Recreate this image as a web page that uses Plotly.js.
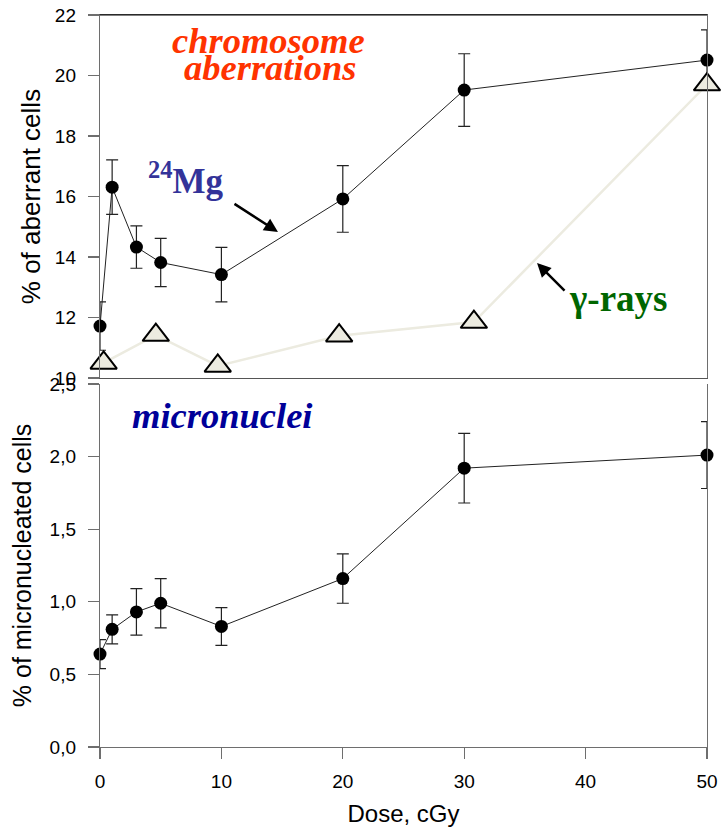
<!DOCTYPE html>
<html>
<head>
<meta charset="utf-8">
<script src="https://cdn.plot.ly/plotly-3.0.1.min.js"></script>
<style>html,body{margin:0;padding:0;background:#fff;}#chart{width:721px;height:832px;}</style>
</head>
<body>
<div id="chart"></div>
<script>
// Dose values (cGy)
const doseMg = [0, 1, 3, 5, 10, 20, 30, 50];
// 24Mg: % of aberrant cells and errors
const aberrMg = [11.72, 16.31, 14.33, 13.82, 13.42, 15.92, 19.52, 20.51];
const aberrMgErr = [0.8, 0.9, 0.7, 0.8, 0.9, 1.1, 1.2, 1.0];
// gamma-rays: % of aberrant cells
const doseGamma = [0.3, 4.6, 9.7, 19.7, 30.8, 50];
const aberrGamma = [10.5, 11.42, 10.4, 11.4, 11.85, 19.7];
// 24Mg: % of micronucleated cells and errors
const micro = [0.64, 0.81, 0.93, 0.99, 0.83, 1.16, 1.92, 2.01];
const microErr = [0.1, 0.1, 0.16, 0.17, 0.13, 0.17, 0.24, 0.23];

const xTicks = [0, 10, 20, 30, 40, 50];
const yTopTicks = [10, 12, 14, 16, 18, 20, 22];
const yBotTicks = [0, 0.5, 1.0, 1.5, 2.0, 2.5];

const sans = 'Liberation Sans, Arial, sans-serif';
const serif = 'Liberation Serif, Times New Roman, serif';
const axisCol = '#6e6e6e';

const traces = [
  {
    x: doseMg, y: aberrMg, xaxis: 'x2', yaxis: 'y2', type: 'scatter', mode: 'lines+markers',
    line: {color: '#222', width: 1},
    marker: {symbol: 'circle', size: 13, color: '#000'},
    error_y: {type: 'data', array: aberrMgErr, visible: true, color: '#222', thickness: 1.2, width: 6},
    cliponaxis: false, showlegend: false
  },
  {
    x: doseGamma, y: aberrGamma, xaxis: 'x2', yaxis: 'y2', type: 'scatter', mode: 'lines+markers',
    line: {color: '#ecebe0', width: 2.5},
    marker: {symbol: 'triangle-up', size: 23, color: '#ecebe0', line: {color: '#000', width: 2}},
    cliponaxis: false, showlegend: false
  },
  {
    x: doseMg, y: micro, xaxis: 'x', yaxis: 'y', type: 'scatter', mode: 'lines+markers',
    line: {color: '#222', width: 1},
    marker: {symbol: 'circle', size: 13, color: '#000'},
    error_y: {type: 'data', array: microErr, visible: true, color: '#222', thickness: 1.2, width: 6},
    cliponaxis: false, showlegend: false
  }
];

const layout = {
  width: 721, height: 832,
  margin: {l: 100, r: 14, t: 15, b: 85},
  paper_bgcolor: '#fff', plot_bgcolor: '#fff',
  separators: ',.',
  font: {family: sans, color: '#000', size: 19},
  xaxis: {
    domain: [0, 1], range: [0, 50], anchor: 'y',
    tickvals: xTicks, ticks: 'outside', ticklen: 11, tickwidth: 1.2, tickcolor: axisCol,
    showline: true, linecolor: axisCol, linewidth: 1.2, showgrid: false, zeroline: false,
    tickfont: {family: sans, size: 19}, ticklabelstandoff: 6,
    title: {text: 'Dose, cGy', font: {family: sans, size: 24}, standoff: 14},
    automargin: false
  },
  yaxis: {
    domain: [0, 0.496], range: [0, 2.5], anchor: 'x',
    tickvals: yBotTicks, tickformat: '.1f', ticks: 'outside', ticklen: 11, tickwidth: 1.2, tickcolor: axisCol,
    showline: true, mirror: true, linecolor: axisCol, linewidth: 1.2, showgrid: false, zeroline: false,
    tickfont: {family: sans, size: 19}, ticklabelstandoff: 8,
    title: {text: '% of micronucleated cells', font: {family: sans, size: 25}, standoff: 10},
    automargin: false
  },
  xaxis2: {
    domain: [0, 1], range: [0, 50], anchor: 'y2',
    showticklabels: false, ticks: '',
    showline: true, mirror: true, linecolor: '#555', linewidth: 1.2, showgrid: false, zeroline: false,
    automargin: false
  },
  yaxis2: {
    domain: [0.504, 1], range: [10, 22], anchor: 'x2',
    tickvals: yTopTicks, ticks: 'outside', ticklen: 11, tickwidth: 1.2, tickcolor: axisCol,
    showline: true, mirror: true, linecolor: axisCol, linewidth: 1.2, showgrid: false, zeroline: false,
    tickfont: {family: sans, size: 19}, ticklabelstandoff: 8,
    title: {text: '% of aberrant cells', font: {family: sans, size: 26}, standoff: 6},
    automargin: false
  },
  shapes: [
    {type: 'line', xref: 'paper', yref: 'paper', x0: 0, x1: 1, y0: 1, y1: 1, line: {color: '#000', width: 1.2}}
  ],
  annotations: [
    {xref: 'x2', yref: 'y2', x: 13.9, y: 21.15, text: 'chromosome', showarrow: false,
     font: {family: serif, size: 36.5, color: '#ff3300', weight: 'bold', style: 'italic'}},
    {xref: 'x2', yref: 'y2', x: 14.0, y: 20.25, text: 'aberrations', showarrow: false,
     font: {family: serif, size: 36.5, color: '#ff3300', weight: 'bold', style: 'italic'}},
    {xref: 'x2', yref: 'y2', x: 7.1, y: 16.6, text: '<sup>24</sup>Mg', showarrow: false,
     font: {family: serif, size: 35, color: '#333399', weight: 'bold'}},
    {xref: 'x2', yref: 'y2', x: 14.66, y: 14.83, ax: -45, ay: -29, text: '', showarrow: true,
     arrowhead: 2, arrowsize: 1.1, arrowwidth: 2.5, arrowcolor: '#000'},
    {xref: 'x2', yref: 'y2', x: 42.7, y: 12.64, text: 'γ-rays', showarrow: false,
     font: {family: serif, size: 37, color: '#006600', weight: 'bold'}},
    {xref: 'x2', yref: 'y2', x: 36.0, y: 13.8, ax: 29, ay: 29, text: '', showarrow: true,
     arrowhead: 2, arrowsize: 1.1, arrowwidth: 2.5, arrowcolor: '#000'},
    {xref: 'x', yref: 'y', x: 10.05, y: 2.285, text: 'micronuclei', showarrow: false,
     font: {family: serif, size: 36.5, color: '#000099', weight: 'bold', style: 'italic'}}
  ]
};

Plotly.newPlot('chart', traces, layout, {displayModeBar: false, staticPlot: true});
</script>
</body>
</html>
